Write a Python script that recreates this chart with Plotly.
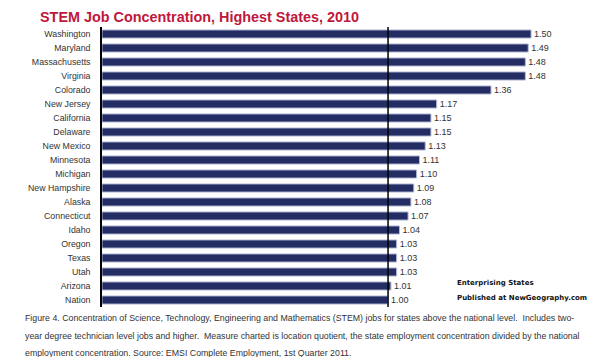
import plotly.graph_objects as go

states = ["Washington", "Maryland", "Massachusetts", "Virginia", "Colorado", "New Jersey",
          "California", "Delaware", "New Mexico", "Minnesota", "Michigan", "New Hampshire",
          "Alaska", "Connecticut", "Idaho", "Oregon", "Texas", "Utah", "Arizona", "Nation"]
values = [1.50, 1.49, 1.48, 1.48, 1.36, 1.17, 1.15, 1.15, 1.13, 1.11, 1.10, 1.09,
          1.08, 1.07, 1.04, 1.03, 1.03, 1.03, 1.01, 1.00]
value_labels = [f"{v:.2f}" for v in values]
national_level = 1.0

title = "STEM Job Concentration, Highest States, 2010"
caption_lines = [
    "Figure 4. Concentration of Science, Technology, Engineering and Mathematics (STEM) jobs for states above the national level.  Includes two-",
    "year degree technician level jobs and higher.  Measure charted is location quotient, the state employment concentration divided by the national",
    "employment concentration. Source: EMSI Complete Employment, 1st Quarter 2011.",
]
brand_lines = ["Enterprising States", "Published at NewGeography.com"]

W, H = 595, 357
ML, MR, MT, MB = 102, 3, 27, 50

fig = go.Figure()
fig.add_trace(go.Bar(
    x=values, y=states, orientation="h",
    marker=dict(color="#232d63", line=dict(color="#b4bbd6", width=1)),
    width=0.58,
    text=value_labels, textposition="outside", cliponaxis=False, constraintext="none",
    textfont=dict(family="Liberation Sans, Arial", size=9, color="#333"),
    hoverinfo="skip",
))

fig.add_shape(type="line", xref="x", yref="paper", x0=national_level, x1=national_level,
              y0=0, y1=1, line=dict(color="black", width=1.5))

fig.update_layout(
    width=W, height=H,
    margin=dict(l=ML, r=MR, t=MT, b=MB, autoexpand=False),
    paper_bgcolor="white", plot_bgcolor="white",
    showlegend=False,
    bargap=0.42,
    xaxis=dict(range=[0, 1.713], showgrid=False, zeroline=False, showticklabels=False,
               showline=False, ticks=""),
    yaxis=dict(autorange="reversed", showgrid=False, zeroline=False, automargin=False,
               showline=True, linecolor="black", linewidth=1.5, ticks="",
               ticklabelstandoff=8,
               tickfont=dict(family="Liberation Sans, Arial", size=8.8, color="#333")),
    font=dict(family="Liberation Sans, Arial"),
)

pw = W - ML - MR
ph = H - MT - MB

fig.add_annotation(text=f"<b>{title}</b>", xref="paper", yref="paper", x=(38 - ML) / pw,
                   y=1 + (MT - 17.5) / ph, xanchor="left", yanchor="middle",
                   showarrow=False,
                   font=dict(family="Liberation Sans, Arial", size=14.4, color="#c0173c"))

for i, line in enumerate(caption_lines):
    ypix = 318 + i * 17.5
    fig.add_annotation(text=line, xref="paper", yref="paper",
                       x=(23 - ML) / pw, y=1 - (ypix - MT) / ph,
                       xanchor="left", yanchor="middle", showarrow=False,
                       font=dict(family="Liberation Sans, Arial", size=8.8, color="#333"))

for i, line in enumerate(brand_lines):
    ypix = 283 + i * 15
    fig.add_annotation(text=f"<b>{line}</b>", xref="paper", yref="paper",
                       x=(455 - ML) / pw, y=1 - (ypix - MT) / ph,
                       xanchor="left", yanchor="middle", showarrow=False,
                       font=dict(family="DejaVu Sans", size=7.0, color="#111"))

fig.write_html("out.html", config={"displayModeBar": False},
               post_script="document.body.style.margin='0px';")
